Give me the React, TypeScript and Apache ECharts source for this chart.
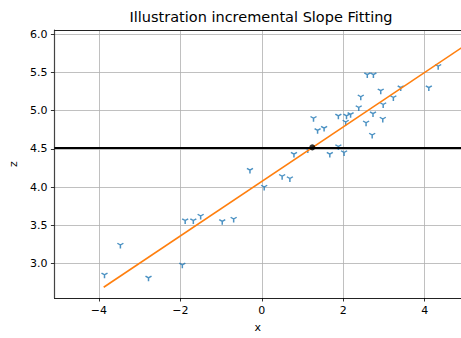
import React, { useEffect, useRef } from "react";
import * as echarts from "echarts";

const pointsX = [4.33, 2.59, 2.74, 3.41, 4.10, 2.92, 2.43, 3.23, 2.98, 2.38, 2.73, 1.27, 1.88, 2.08, 2.18, 2.97, 2.06, 2.56, 1.37, 1.53, 2.71, 1.88, 1.13, 0.79, 1.67, 2.02,
  -0.29, -1.88, -1.68, -1.50, -0.97, -0.69, -3.47, -3.86, -2.78, -1.95, 0.06, 0.50, 0.69];
const pointsZ = [5.58, 5.47, 5.47, 5.30, 5.30, 5.26, 5.18, 5.17, 5.08, 5.04, 4.96, 4.90, 4.93, 4.93, 4.95, 4.89, 4.85, 4.84, 4.74, 4.77, 4.68, 4.53, 4.49, 4.43, 4.43, 4.45,
  4.22, 3.56, 3.56, 3.62, 3.55, 3.58, 3.24, 2.85, 2.81, 2.98, 4.00, 4.14, 4.11];
const fitX = [-3.88, 4.95];
const fitZ = [2.69, 5.84];
const pivotX = [1.24];
const pivotZ = [4.52];
const levelZ = 4.52;
const xTicks = [-4, -2, 0, 2, 4];
const zTicks = [3.0, 3.5, 4.0, 4.5, 5.0, 5.5, 6.0];
const titleText = "Illustration incremental Slope Fitting";

const FONT = "DejaVu Sans";

export default function App() {
  const ref = useRef<HTMLDivElement>(null);
  useEffect(() => {
    if (!ref.current) return;
    const chart = echarts.init(ref.current, null, { renderer: "svg" });
    const xMin = -5.09, xMax = 4.89, zMin = 2.549, zMax = 6.056;
    const fmtX = (v: number) => (v < 0 ? "\u2212" + Math.abs(v) : String(v));
    chart.setOption({
      animation: false,
      backgroundColor: "#fff",
      graphic: [
        {
          type: "text",
          x: 261,
          y: 17,
          style: { text: titleText, font: `14.5px "${FONT}"`, fill: "#000", textAlign: "center", textVerticalAlign: "middle" },
        },
      ],
      grid: { left: 54, right: 0, top: 30, bottom: 39, containLabel: false },
      xAxis: [
        {
          type: "value",
          min: xMin,
          max: xMax,
          name: "x",
          nameLocation: "middle",
          nameGap: 24,
          nameTextStyle: { fontFamily: FONT, fontSize: 11, color: "#000" },
          axisLine: { show: true, onZero: false, lineStyle: { color: "#222", width: 1 } },
          axisTick: { show: true, inside: false, length: 3.5, lineStyle: { color: "#000", width: 0.8 }, customValues: xTicks },
          axisLabel: { margin: 7, fontFamily: FONT, fontSize: 11, color: "#000", customValues: xTicks, formatter: fmtX },
          splitLine: { show: true, lineStyle: { color: "#b0b0b0", width: 0.8 } },
        },
        {
          type: "value",
          position: "top",
          min: xMin,
          max: xMax,
          axisLine: { show: true, onZero: false, lineStyle: { color: "#222", width: 1 } },
          axisTick: { show: false },
          axisLabel: { show: false },
          splitLine: { show: false },
        },
      ],
      yAxis: {
        type: "value",
        min: zMin,
        max: zMax,
        name: "z",
        nameLocation: "middle",
        nameGap: 35,
        nameRotate: 90,
        nameTextStyle: { fontFamily: FONT, fontSize: 11, color: "#000" },
        axisLine: { show: true, onZero: false, lineStyle: { color: "#444", width: 1.2 } },
        axisTick: { show: true, inside: false, length: 3.5, lineStyle: { color: "#000", width: 0.8 }, customValues: zTicks },
        axisLabel: { margin: 7, fontFamily: FONT, fontSize: 11, color: "#000", customValues: zTicks, formatter: (v: number) => v.toFixed(1) },
        splitLine: { show: true, lineStyle: { color: "#b0b0b0", width: 0.8 } },
      },
      series: [
        {
          type: "scatter",
          data: pointsX.map((x, i) => [x, pointsZ[i]]),
          symbol: "path://M5,5L5,10M5,5L0.67,2.5M5,5L9.33,2.5",
          symbolSize: [6, 5.2],
          symbolOffset: [0, 0.7],
          itemStyle: { color: "rgba(0,0,0,0)", borderColor: "#1f77b4", borderWidth: 1.4 },
          z: 2,
        },
        {
          type: "line",
          data: fitX.map((x, i) => [x, fitZ[i]]),
          symbol: "none",
          lineStyle: { color: "#ff7f0e", width: 1.6 },
          clip: true,
          z: 3,
          markLine: {
            silent: true,
            symbol: "none",
            label: { show: false },
            lineStyle: { color: "#000", width: 1.8, type: "solid" },
            data: [{ yAxis: levelZ }],
          },
        },
        {
          type: "scatter",
          data: pivotX.map((x, i) => [x, pivotZ[i]]),
          symbol: "circle",
          symbolSize: 6,
          itemStyle: { color: "#000" },
          z: 5,
        },
      ],
    });
    return () => chart.dispose();
  }, []);
  return <div ref={ref} style={{ position: "fixed", left: 0, top: 0, width: 461, height: 338 }} />;
}
